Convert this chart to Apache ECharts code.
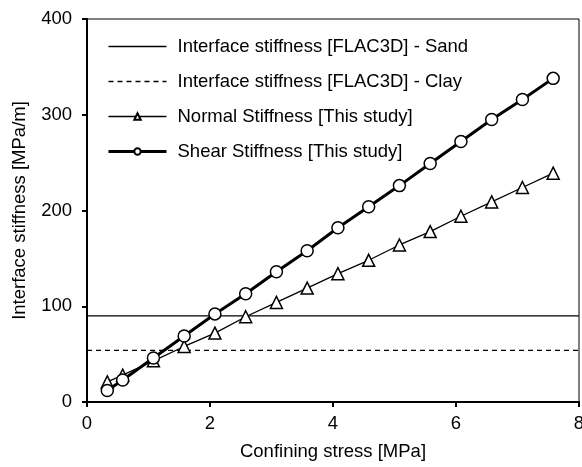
<!DOCTYPE html>
<html><head><meta charset="utf-8">
<script src="https://cdn.jsdelivr.net/npm/echarts@6/dist/echarts.min.js"></script>
<style>html,body{margin:0;padding:0;background:#fff}#c{width:582px;height:467px}</style>
</head><body><div id="c"></div>
<script>
const confiningStress = [0.33, 0.58, 1.08, 1.58, 2.08, 2.58, 3.08, 3.58, 4.08, 4.58, 5.08, 5.58, 6.08, 6.58, 7.08, 7.58];
const normalStiffness = [21, 28, 43, 58, 72, 89, 104, 119, 134, 148, 164, 178, 194, 209, 224, 239];
const shearStiffness = [12, 23, 46, 69, 92, 113, 136, 158, 182, 204, 226, 249, 272, 295, 316, 338];
const sandX = [0, 8];
const sandY = [90, 90];
const clayX = [0, 8];
const clayY = [54, 54];
const seriesNames = ['Interface stiffness [FLAC3D] - Sand', 'Interface stiffness [FLAC3D] - Clay', 'Normal Stiffness [This study]', 'Shear Stiffness [This study]'];

const zip = (xs, ys) => xs.map((x, i) => [x, ys[i]]);
const font = 'Liberation Sans, Arial, sans-serif';
const fs = 18.5;
const chart = echarts.init(document.getElementById('c'));
chart.setOption({
  animation: false,
  grid: { left: 87, right: 3, top: 19, bottom: 65, show: true, borderColor: '#000', borderWidth: 1, outerBoundsMode: 'none', containLabel: false },
  legend: {
    orient: 'vertical', left: 107, top: 37, padding: 0, itemWidth: 58, itemHeight: 8, itemGap: 16,
    textStyle: { fontFamily: font, fontSize: fs, color: '#000', padding: [0, 0, 0, 6] },
    data: [
      { name: seriesNames[0], itemStyle: { opacity: 0 }, lineStyle: { width: 1.3 } },
      { name: seriesNames[1], itemStyle: { opacity: 0 }, lineStyle: { width: 1.3 } },
      { name: seriesNames[2], lineStyle: { width: 1.3 } },
      { name: seriesNames[3], lineStyle: { width: 3 } }
    ]
  },
  xAxis: {
    type: 'value', min: 0, max: 8, interval: 2,
    name: 'Confining stress [MPa]', nameLocation: 'middle', nameGap: 40,
    nameTextStyle: { fontFamily: font, fontSize: fs, color: '#000' },
    axisLine: { lineStyle: { color: '#000', width: 2 } },
    axisTick: { show: true, inside: false, length: 5, lineStyle: { color: '#000', width: 2 } },
    axisLabel: { fontFamily: font, fontSize: fs, color: '#000', margin: 12 },
    splitLine: { show: false }
  },
  yAxis: {
    type: 'value', min: 0, max: 400, interval: 100,
    name: 'Interface stiffness [MPa/m]', nameLocation: 'middle', nameGap: 58,
    nameTextStyle: { fontFamily: font, fontSize: fs, color: '#000' },
    axisLine: { show: true, lineStyle: { color: '#000', width: 2 } },
    axisTick: { show: true, inside: false, length: 5, lineStyle: { color: '#000', width: 2 } },
    axisLabel: { fontFamily: font, fontSize: fs, color: '#000', margin: 15 },
    splitLine: { show: false }
  },
  series: [
    { name: seriesNames[0], type: 'line', data: zip(sandX, sandY), symbol: 'none',
      lineStyle: { color: '#000', width: 1.3 }, itemStyle: { color: '#000' } },
    { name: seriesNames[1], type: 'line', data: zip(clayX, clayY), symbol: 'none',
      lineStyle: { color: '#000', width: 1.3, type: [5, 4] }, itemStyle: { color: '#000' } },
    { name: seriesNames[2], type: 'line', data: zip(confiningStress, normalStiffness),
      symbol: 'triangle', symbolSize: 12,
      lineStyle: { color: '#000', width: 1.3 },
      itemStyle: { color: '#fff', borderColor: '#000', borderWidth: 1.5 } },
    { name: seriesNames[3], type: 'line', data: zip(confiningStress, shearStiffness),
      symbol: 'circle', symbolSize: 12,
      lineStyle: { color: '#000', width: 3 },
      itemStyle: { color: '#fff', borderColor: '#000', borderWidth: 1.5 } }
  ]
});
</script></body></html>
